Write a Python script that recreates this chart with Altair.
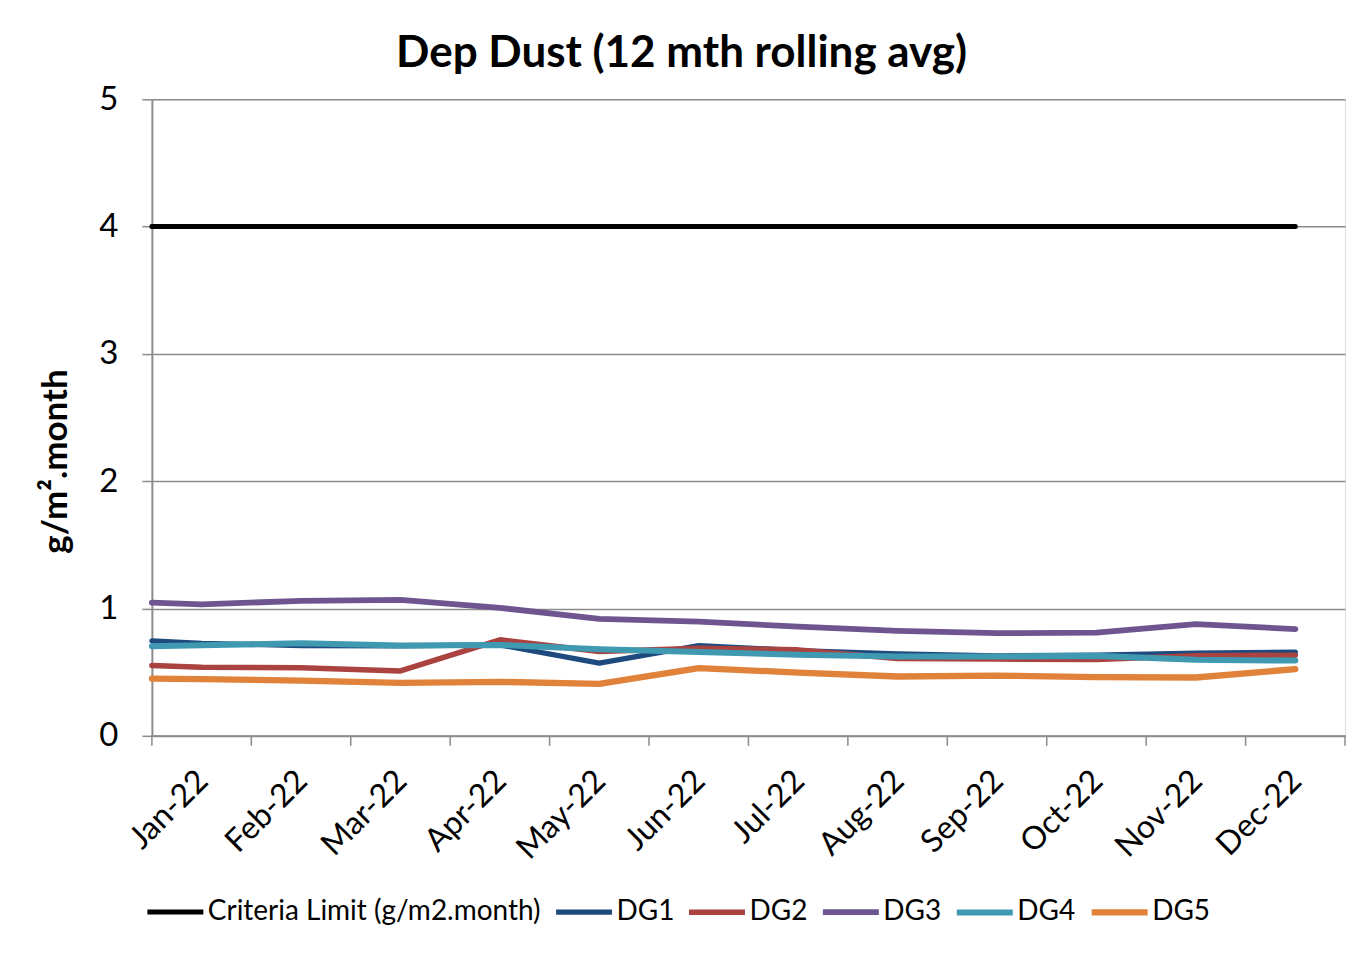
import altair as alt
import pandas as pd

# ---- data ----
months = ["Jan-22", "Feb-22", "Mar-22", "Apr-22", "May-22", "Jun-22",
          "Jul-22", "Aug-22", "Sep-22", "Oct-22", "Nov-22", "Dec-22"]
# x position of each plotted point (axis runs 0..12, month centres at .5)
x_idx = [0, 0.5, 1.5, 2.5, 3.5, 4.5, 5.5, 6.5, 7.5, 8.5, 9.5, 10.5, 11.5]
label_pos = [0.5, 1.5, 2.5, 3.5, 4.5, 5.5, 6.5, 7.5, 8.5, 9.5, 10.5, 11.5]
tick_pos = [0, 1, 2, 3, 4, 5, 6, 7, 8, 9, 10, 11, 12]

criteria = [4.0, 4.0, 4.0, 4.0, 4.0, 4.0, 4.0, 4.0, 4.0, 4.0, 4.0, 4.0, 4.0]
dg1 = [0.745, 0.727, 0.709, 0.706, 0.714, 0.571, 0.709, 0.670, 0.644, 0.628, 0.633, 0.649, 0.657]
dg2 = [0.552, 0.539, 0.534, 0.510, 0.754, 0.662, 0.688, 0.675, 0.608, 0.603, 0.600, 0.628, 0.633]
dg3 = [1.046, 1.033, 1.060, 1.067, 1.005, 0.918, 0.897, 0.858, 0.824, 0.806, 0.811, 0.877, 0.838]
dg4 = [0.704, 0.712, 0.727, 0.709, 0.714, 0.680, 0.659, 0.636, 0.623, 0.623, 0.628, 0.597, 0.591]
dg5 = [0.450, 0.445, 0.434, 0.416, 0.424, 0.408, 0.531, 0.497, 0.466, 0.473, 0.461, 0.458, 0.524]

series_names = ["Criteria Limit (g/m2.month)", "DG1", "DG2", "DG3", "DG4", "DG5"]
series_vals = [criteria, dg1, dg2, dg3, dg4, dg5]
series_colors = ["#000000", "#1F4A7E", "#AA4240", "#6E5590", "#3E99B1", "#E0823A"]
series_widths = [5, 6.3, 6.3, 6.3, 6.3, 6.3]

rows = []
for order, (name, vals) in enumerate(zip(series_names, series_vals)):
    for x, v in zip(x_idx, vals):
        rows.append({"series": name, "x": x, "value": v, "ord": order})
df = pd.DataFrame(rows)
ticks_df = pd.DataFrame({"t": tick_pos})

FONT = "Lato"
GRID = "#8C8C8C"
W, H = 1194, 637

xscale = alt.Scale(domain=[0, 12], nice=False, zero=False)
month_js = "[" + ",".join("'" + m + "'" for m in months) + "]"

x_axis = alt.Axis(values=label_pos, labelExpr=month_js + "[floor(datum.value)]",
                  title=None, ticks=False, grid=False, labelAngle=-45,
                  labelAlign="right", labelBaseline="top",
                  labelFontSize=32, labelFont=FONT, labelColor="#000000",
                  labelPadding=29, labelOffset=-10, domainColor=GRID, domainWidth=2,
                  labelOverlap=False, labelBound=False, labelFlush=False)

lines = alt.Chart(df).mark_line(strokeCap="round", strokeJoin="round").encode(
    x=alt.X("x:Q", scale=xscale, axis=x_axis),
    y=alt.Y("value:Q", scale=alt.Scale(domain=[0, 5], nice=False),
            axis=alt.Axis(values=[0, 1, 2, 3, 4, 5], format="d", title="g/m².month",
                          titleFont=FONT, titleFontSize=35, titleFontWeight="bold",
                          titleColor="#000000", titlePadding=25, titleY=362,
                          labelFontSize=33, labelFont=FONT, labelColor="#000000",
                          labelPadding=24, tickSize=10, tickColor=GRID, tickWidth=1.5,
                          grid=True, gridColor=GRID, gridWidth=1.5,
                          domainColor=GRID, domainWidth=2)),
    color=alt.Color("series:N",
                    scale=alt.Scale(domain=series_names, range=series_colors),
                    legend=alt.Legend(title=None, orient="none", direction="horizontal",
                                      columns=6, legendX=-8, legendY=782,
                                      symbolType="stroke", symbolSize=3136,
                                      symbolStrokeWidth=5, labelFont=FONT,
                                      labelFontSize=28, labelColor="#000000",
                                      labelOffset=1, columnPadding=3,
                                      labelLimit=500)),
    strokeWidth=alt.StrokeWidth("series:N",
                                scale=alt.Scale(domain=series_names, range=series_widths),
                                legend=None),
    order=alt.Order("ord:Q"),
    detail="series:N",
)

tick_marks = alt.Chart(ticks_df).mark_rule(color=GRID, strokeWidth=1.5).encode(
    x=alt.X("t:Q", scale=xscale, axis=x_axis),
    y=alt.value(H),
    y2=alt.value(H + 10),
)

chart = alt.layer(lines, tick_marks).properties(
    width=W, height=H,
    title=alt.Title("Dep Dust (12 mth rolling avg)", font=FONT, fontSize=44,
                    fontWeight="bold", color="#000000", anchor="middle",
                    dx=-67, offset=7),
    autosize=alt.AutoSizeParams(type="none"),
    padding={"left": 144, "top": 91, "right": 12, "bottom": 218},
).configure_view(stroke=None).configure(background="#FFFFFF")

chart.save("out.html", embed_options={"renderer": "svg", "actions": False})
